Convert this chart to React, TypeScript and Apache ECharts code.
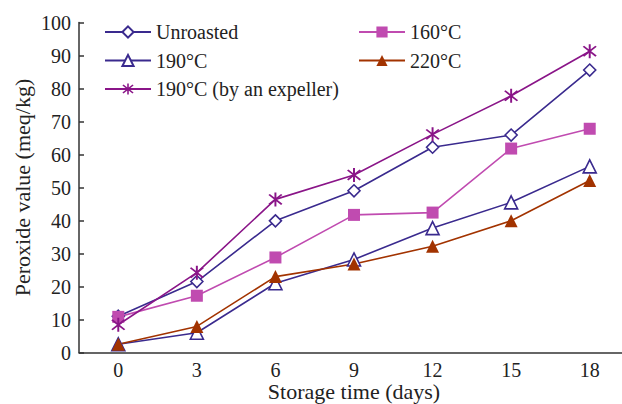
import React, { useEffect, useRef } from "react";
import * as echarts from "echarts";

const days = ["0", "3", "6", "9", "12", "15", "18"];
const unroasted = [11, 21.5, 39.9, 49, 62.2, 65.9, 85.6];
const c160 = [10.8, 17.2, 28.8, 41.7, 42.4, 61.8, 67.8];
const c190 = [2.5, 6, 21, 28.2, 37.7, 45.5, 56.4];
const c220 = [2.5, 7.9, 23, 26.8, 32.2, 39.9, 52.1];
const expeller = [8.4, 24.2, 46.4, 53.8, 66.1, 77.8, 91.3];

const NAVY = "#3a2a8e";
const PINK = "#c04bb0";
const BROWN = "#a23300";
const PURPLE = "#8a1588";

function asteriskPath(): string {
  const r = 10;
  const w = 1.1;
  const angles = [90, 45, -45];
  let d = "";
  for (const a of angles) {
    const t = (a * Math.PI) / 180;
    const dx = Math.cos(t) * r, dy = Math.sin(t) * r;
    const nx = -Math.sin(t) * w, ny = Math.cos(t) * w;
    const p = [
      [dx + nx, dy + ny],
      [-dx + nx, -dy + ny],
      [-dx - nx, -dy - ny],
      [dx - nx, dy - ny],
    ];
    d += `M${p[0][0].toFixed(2)},${p[0][1].toFixed(2)} L${p[1][0].toFixed(2)},${p[1][1].toFixed(2)} L${p[2][0].toFixed(2)},${p[2][1].toFixed(2)} L${p[3][0].toFixed(2)},${p[3][1].toFixed(2)} Z `;
  }
  return "path://" + d;
}

export default function App() {
  const ref = useRef<HTMLDivElement>(null);
  useEffect(() => {
    if (!ref.current) return;
    const chart = echarts.init(ref.current, null, { renderer: "svg" });
    const font = "'Liberation Serif', 'Times New Roman', serif";
    const star = asteriskPath();
    const mk = (name: string, data: number[], color: string, symbol: string, size: number, hollow: boolean) => ({
      name,
      type: "line",
      data,
      symbol,
      symbolSize: size,
      showAllSymbol: true,
      lineStyle: { color, width: 1.6 },
      itemStyle: { color: hollow ? "#ffffff" : color, borderColor: color, borderWidth: hollow ? 1.6 : 0 },
      z: 2,
    });
    const legendText = { fontFamily: font, fontSize: 20, color: "#222" };
    chart.setOption({
      animation: false,
      textStyle: { fontFamily: font },
      grid: {
        left: 79,
        top: 22.5,
        width: 550,
        height: 330,
        containLabel: false,
        outerBoundsMode: "none",
      },
      legend: [
        {
          data: ["Unroasted", "190°C", "190°C (by an expeller)"],
          orient: "vertical",
          left: 99,
          top: 17,
          itemWidth: 46,
          itemHeight: 14,
          itemGap: 8.5,
          textStyle: legendText,
        },
        {
          data: ["160°C", "220°C"],
          orient: "vertical",
          left: 353,
          top: 17,
          itemWidth: 46,
          itemHeight: 14,
          itemGap: 8.5,
          textStyle: legendText,
        },
      ],
      xAxis: {
        type: "category",
        data: days,
        boundaryGap: true,
        name: "Storage time (days)",
        nameLocation: "middle",
        nameGap: 28,
        nameMoveOverlap: false,
        nameTextStyle: { fontFamily: font, fontSize: 22, color: "#222" },
        axisLine: { lineStyle: { color: "#333", width: 1.5 } },
        axisTick: { inside: true, length: 5, lineStyle: { color: "#333", width: 1.5 } },
        axisLabel: { fontFamily: font, fontSize: 20, color: "#222", margin: 7 },
        splitLine: { show: false },
      },
      yAxis: {
        type: "value",
        min: 0,
        max: 100,
        interval: 10,
        name: "Peroxide value (meq/kg)",
        nameLocation: "middle",
        nameGap: 46,
        nameMoveOverlap: false,
        nameRotate: 90,
        nameTextStyle: { fontFamily: font, fontSize: 22, color: "#222" },
        axisLine: { show: true, lineStyle: { color: "#333", width: 1.5 } },
        axisTick: { show: true, inside: true, length: 5, lineStyle: { color: "#333", width: 1.5 } },
        axisLabel: { fontFamily: font, fontSize: 20, color: "#222", margin: 8 },
        splitLine: { show: false },
      },
      series: [
        mk("Unroasted", unroasted, NAVY, "diamond", 12, true),
        mk("160°C", c160, PINK, "rect", 12, false),
        mk("190°C", c190, NAVY, "triangle", 13, true),
        mk("220°C", c220, BROWN, "triangle", 13, false),
        mk("190°C (by an expeller)", expeller, PURPLE, star, 14, false),
      ],
    });
    return () => chart.dispose();
  }, []);
  return (
    <div
      ref={ref}
      style={{ position: "fixed", left: 0, top: 0, width: 622, height: 404, background: "#fff" }}
    />
  );
}
